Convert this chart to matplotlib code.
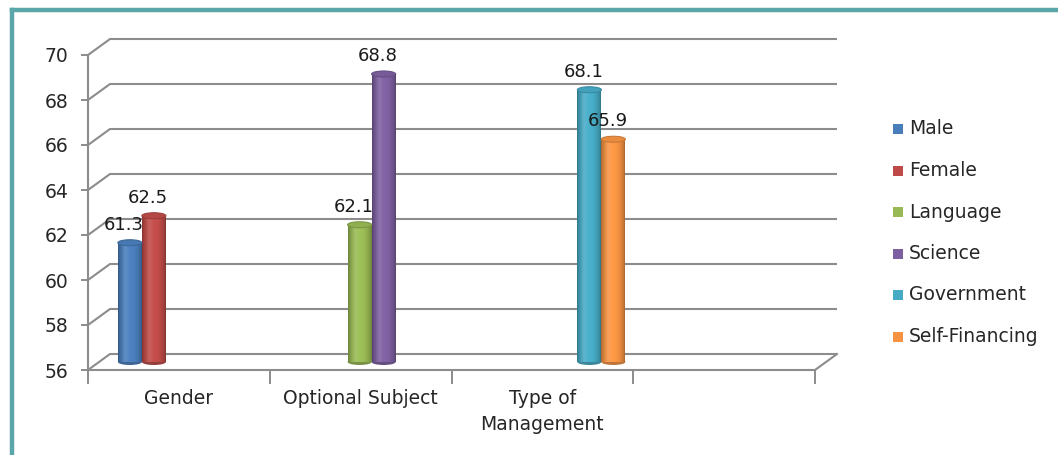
import numpy as np
import matplotlib
matplotlib.use("Agg")
import matplotlib.pyplot as plt
from matplotlib.patches import Rectangle, Ellipse
from matplotlib.lines import Line2D
from matplotlib.colors import to_rgb

# ---------------- data ----------------
categories = ["Gender", "Optional Subject", "Type of\nManagement", ""]
series_names = ["Male", "Female", "Language", "Science", "Government", "Self-Financing"]
series_values = [61.3, 62.5, 62.1, 68.8, 68.1, 65.9]
series_category = [0, 0, 1, 1, 2, 2]
series_colors = ["#4A7EBB", "#BE4B48", "#98B954", "#7D5FA0", "#46AAC5", "#F59343"]
y_ticks = [56, 58, 60, 62, 64, 66, 68, 70]

# ---------------- layout ----------------
W, H = 1058, 455
fig = plt.figure(figsize=(W / 100, H / 100), dpi=100)
fig.patch.set_facecolor("white")
ax_l, ax_r, ax_b, ax_t = 88, 815, 370, 55
ax = fig.add_axes([ax_l / W, (H - ax_b) / H, (ax_r - ax_l) / W, (ax_b - ax_t) / H])
ax.set_facecolor("none")

ncat = len(categories)
px_per_x = (ax_r - ax_l) / ncat
px_per_y = (ax_b - ax_t) / (y_ticks[-1] - y_ticks[0])
DX = 22 / px_per_x          # depth offset (data units)
DY = 16 / px_per_y
BW = 24 / px_per_x          # bar width
FONT = "DejaVu Sans"
GRID = "#8c8c8c"
TXT = "#262626"

ax.set_xlim(-0.5, ncat - 0.5)
ax.set_ylim(y_ticks[0], y_ticks[-1])

# back wall gridlines + left diagonals
for v in y_ticks:
    ax.plot([-0.5, -0.5 + DX, ncat - 0.5 + DX], [v, v + DY, v + DY],
            color=GRID, lw=1.5, clip_on=False, zorder=1, solid_capstyle="butt")
# right floor diagonal
ax.plot([ncat - 0.5, ncat - 0.5 + DX], [y_ticks[0], y_ticks[0] + DY],
        color=GRID, lw=1.5, clip_on=False, zorder=1)

# spines
for s in ["top", "right"]:
    ax.spines[s].set_visible(False)
for s in ["left", "bottom"]:
    ax.spines[s].set_color(GRID)
    ax.spines[s].set_linewidth(1.5)

ax.set_yticks(y_ticks)
ax.set_yticklabels([str(v) for v in y_ticks])
ax.tick_params(axis="y", length=5, width=1.4, color=GRID, pad=9,
               labelsize=13.5, labelcolor=TXT)
for t in ax.get_yticklabels():
    t.set_family(FONT)

ax.set_xticks(np.arange(-0.5, ncat, 1.0))
ax.set_xticklabels([])
ax.tick_params(axis="x", which="major", length=10, width=1.4, color=GRID, direction="out")
ax.set_xticks(np.arange(ncat), minor=True)
ax.set_xticklabels(categories, minor=True)
ax.tick_params(axis="x", which="minor", length=0, pad=13.5, labelsize=13.5, labelcolor=TXT)
for t in ax.get_xticklabels(minor=True):
    t.set_family(FONT)
    t.set_linespacing(1.5)


def shade(color, n=64):
    base = np.array(to_rgb(color))
    t = np.linspace(0, 1, n)
    f = 0.68 + 0.36 * np.sin(np.pi * t) ** 0.6
    hl = np.exp(-((t - 0.3) / 0.12) ** 2) * 0.12
    rgb = np.clip(base[None, :] * f[:, None], 0, 1)
    rgb = rgb + (1 - rgb) * hl[:, None]
    return rgb


nser = len(series_names)
for i, (name, val, cat, col) in enumerate(zip(series_names, series_values, series_category, series_colors)):
    xc = cat + (i - (nser - 1) / 2) * BW + DX / 2
    y0 = y_ticks[0] + DY / 2
    top = val + DY / 2
    eh = 6 / px_per_y
    rgb = shade(col)
    # bottom cap
    ax.add_patch(Ellipse((xc, y0), BW, eh, facecolor=rgb[10] * 0.85, edgecolor="none", zorder=3))
    bar = ax.bar(xc, val - y_ticks[0], width=BW, bottom=y0, color=col, edgecolor="none",
                 zorder=3, label=name)[0]
    img = ax.imshow(rgb[None, :, :], extent=(xc - BW / 2, xc + BW / 2, y0, top),
                    aspect="auto", zorder=3.1, interpolation="bilinear")
    img.set_clip_path(bar)
    # top cap
    cap = np.clip(np.array(to_rgb(col)) * 0.95, 0, 1)
    ax.add_patch(Ellipse((xc, top), BW, eh, facecolor=cap, edgecolor=rgb[4], lw=0.8, zorder=3.2))
    ax.annotate(f"{val:.1f}", (xc, top), xytext=(-6, 18), textcoords="offset pixels",
                ha="center", va="center", fontsize=13, family=FONT, color="#1a1a1a", zorder=6)

ax.set_xlim(-0.5, ncat - 0.5)
ax.set_ylim(y_ticks[0], y_ticks[-1])

# legend (manual, Excel-like)
leg_x, leg_y0, leg_dy, sq = 893, 129, 41.5, 10
for i, (name, col) in enumerate(zip(series_names, series_colors)):
    yc = leg_y0 + i * leg_dy
    fig.patches.append(Rectangle((leg_x / W, (H - yc - sq / 2) / H), sq / W, sq / H,
                                 transform=fig.transFigure, facecolor=col, edgecolor="none"))
    fig.text((leg_x + sq + 6) / W, (H - yc) / H, name, ha="left", va="center",
             fontsize=13.5, family=FONT, color=TXT)

# teal frame (top and left edges)
frame = "#5BA6A9"
fig.add_artist(Line2D([12 / W, 1.0], [(H - 10) / H, (H - 10) / H], color=frame, lw=3.2,
                      transform=fig.transFigure))
fig.add_artist(Line2D([12 / W, 12 / W], [(H - 10) / H, 0.0], color=frame, lw=3.2,
                      transform=fig.transFigure))

fig.savefig("out.png", dpi=100, facecolor="white")
